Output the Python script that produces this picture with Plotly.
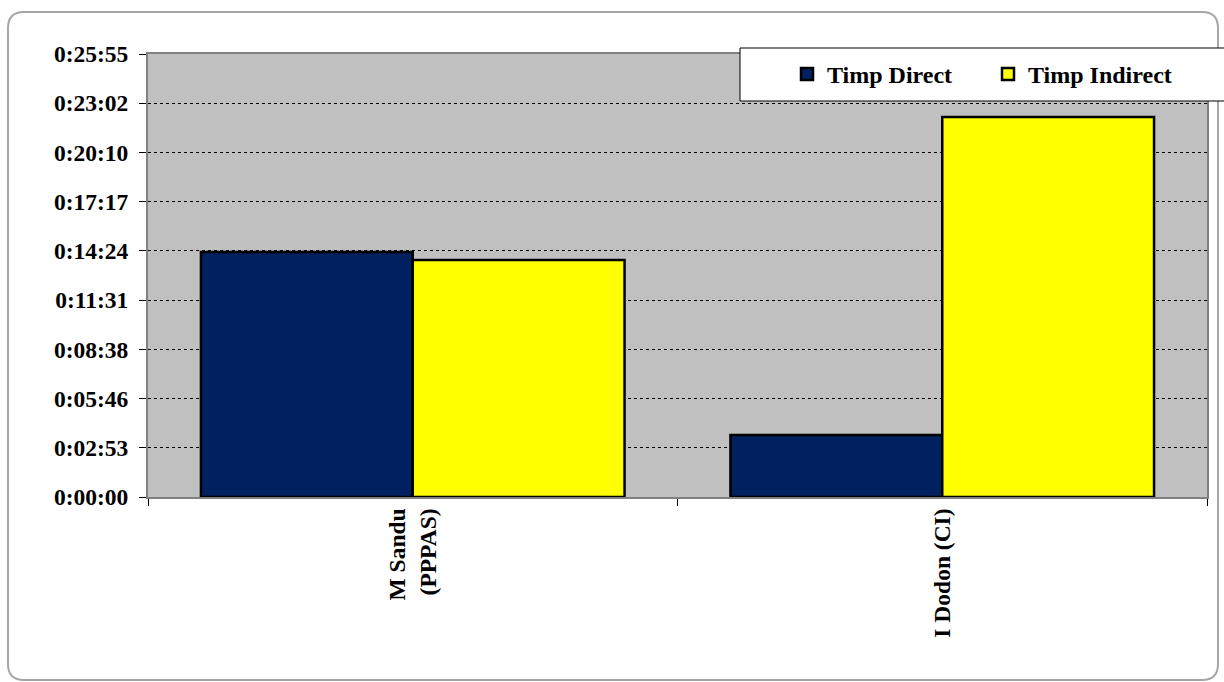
import plotly.graph_objects as go

# ---- data ----
categories = ["M Sandu<br>(PPPAS)", "I Dodon (CI)"]
direct_seconds = [860, 218]      # Timp Direct  (~0:14:20, ~0:03:38)
indirect_seconds = [832, 1334]   # Timp Indirect (~0:13:52, ~0:22:14)
series_names = ["Timp Direct", "Timp Indirect"]
tick_labels = ["0:00:00", "0:02:53", "0:05:46", "0:08:38", "0:11:31",
               "0:14:24", "0:17:17", "0:20:10", "0:23:02", "0:25:55"]

DAY = 86400.0
direct_days = [s / DAY for s in direct_seconds]
indirect_days = [s / DAY for s in indirect_seconds]
tick_vals = [i * 0.002 for i in range(len(tick_labels))]

W, H = 1224, 682
L, R, T, B = 148, 17, 54, 185
PW, PH = W - L - R, H - T - B


def px(x):
    return (x - L) / PW


def py(y):
    return (H - B - y) / PH


FONT = "Liberation Serif, Times New Roman, serif"
FS = 23.5

fig = go.Figure()
fig.add_trace(go.Bar(x=categories, y=direct_days, name=series_names[0],
                     marker=dict(color="#002060", line=dict(color="black", width=2.5))))
fig.add_trace(go.Bar(x=categories, y=indirect_days, name=series_names[1],
                     marker=dict(color="#FFFF00", line=dict(color="black", width=2.5))))

# outer rounded frame
x0, x1, y0, y1, r = px(8), px(1218), py(12), py(680), 16
rx, ry = r / PW, r / PH
path = (f"M {x0+rx},{y0} L {x1-rx},{y0} Q {x1},{y0} {x1},{y0-ry} "
        f"L {x1},{y1+ry} Q {x1},{y1} {x1-rx},{y1} "
        f"L {x0+rx},{y1} Q {x0},{y1} {x0},{y1+ry} "
        f"L {x0},{y0-ry} Q {x0},{y0} {x0+rx},{y0} Z")
fig.add_shape(type="path", path=path, xref="paper", yref="paper",
              line=dict(color="#A6A6A6", width=2), layer="below")

# legend box
fig.add_shape(type="rect", xref="paper", yref="paper",
              x0=px(740), x1=px(1232), y0=py(101), y1=py(48),
              fillcolor="white", line=dict(color="black", width=1), layer="above")

fig.update_layout(
    width=W, height=H,
    margin=dict(l=L, r=R, t=T, b=B, autoexpand=False),
    paper_bgcolor="white",
    plot_bgcolor="#C0C0C0",
    barmode="group",
    bargap=0.2,
    bargroupgap=0,
    font=dict(family=FONT, size=FS, color="black", weight="bold"),
    showlegend=True,
    legend=dict(orientation="h", x=px(787), y=py(52), xanchor="left", yanchor="top",
                bgcolor="rgba(0,0,0,0)", borderwidth=0,
                font=dict(family=FONT, size=24, color="black", weight="bold"),
                entrywidth=156, itemwidth=30, traceorder="normal"),
    xaxis=dict(
        type="category",
        tickangle=-90,
        ticks="outside", ticklen=7, tickcolor="black", tickwidth=1,
        tickson="boundaries",
        showline=True, linecolor="#808080", linewidth=2, mirror=True,
        showgrid=False,
        tickfont=dict(family=FONT, size=FS, color="black", weight="bold"),
    ),
    yaxis=dict(
        range=[0, 0.018],
        tickvals=tick_vals, ticktext=tick_labels,
        ticks="outside", ticklen=7, tickcolor="black", tickwidth=1,
        ticklabelstandoff=6,
        showline=True, linecolor="#808080", linewidth=2, mirror=True,
        showgrid=True, gridcolor="black", gridwidth=1, griddash="dot",
        zeroline=False,
        tickfont=dict(family=FONT, size=FS, color="black", weight="bold"),
    ),
)

fig.write_html("out.html", config={"displayModeBar": False},
               post_script="document.body.style.margin='0';")
